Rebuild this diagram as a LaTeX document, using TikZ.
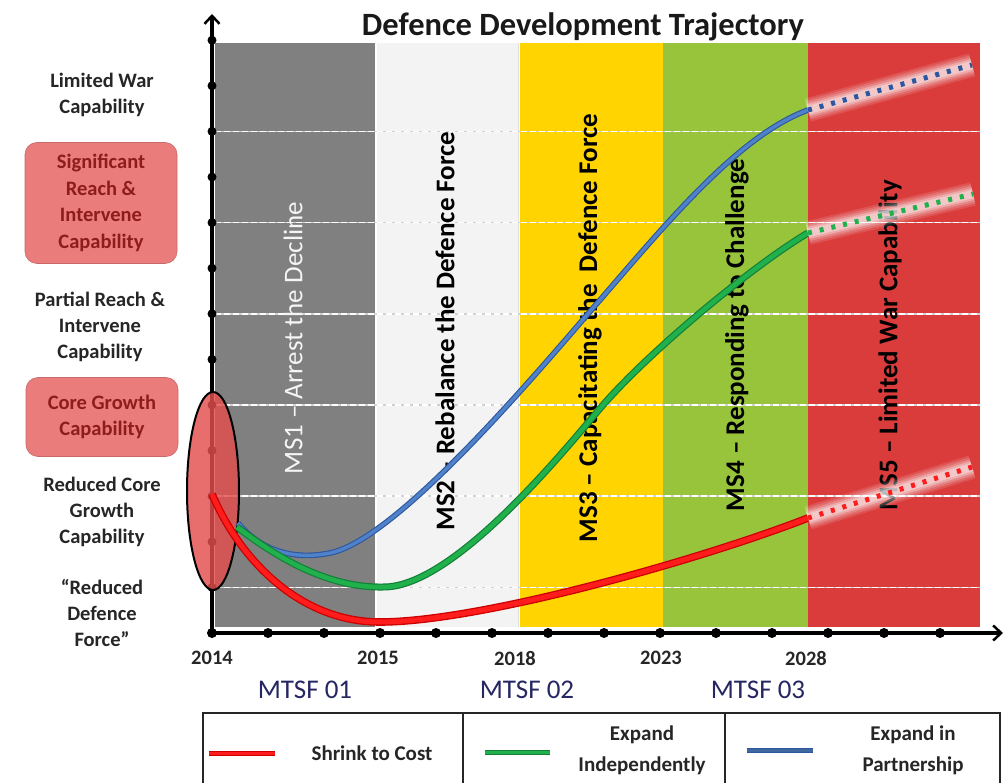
\documentclass[tikz,border=0pt]{standalone}
\usepackage{fontspec}
\setmainfont{Carlito}
\usetikzlibrary{arrows.meta,shapes.geometric}
\definecolor{bandgray}{HTML}{808080}
\definecolor{bandwhite}{HTML}{F3F3F3}
\definecolor{bandyellow}{HTML}{FFD400}
\definecolor{bandgreen}{HTML}{98C43C}
\definecolor{bandred}{HTML}{DA3B3B}
\definecolor{pinkfill}{HTML}{EA7C7C}
\definecolor{pinktext}{HTML}{8E1C1C}
\definecolor{navy}{HTML}{262662}
\definecolor{cblue}{HTML}{4F82C8}
\definecolor{cblueedge}{HTML}{2C56A0}
\definecolor{cgreen}{HTML}{20B04C}
\definecolor{cgreenedge}{HTML}{138038}
\definecolor{cred}{HTML}{FF1C1C}
\definecolor{crededge}{HTML}{CC0000}
\definecolor{ellfill}{HTML}{E44E4E}
\tikzset{
  leftlbl/.style={font=\bfseries\fontsize{20.5}{26}\selectfont, align=center, text=black!85, inner sep=0pt},
  pinklbl/.style={fill=pinkfill, draw=pinkfill!85!black, line width=0.6pt, rounded corners=12pt,
     text=pinktext, font=\bfseries\fontsize{20.5}{26.7}\selectfont, align=center, inner sep=0pt},
  yearlbl/.style={font=\bfseries\fontsize{20.5}{24}\selectfont, text=black!85, inner sep=0pt},
  mtsflbl/.style={font=\fontsize{27}{30}\selectfont, text=navy, inner sep=0pt},
  bandlbl/.style={rotate=90, font=\bfseries\fontsize{27}{30}\selectfont, inner sep=0pt},
  leglbl/.style={font=\bfseries\fontsize{21}{31}\selectfont, align=center, text=black!85, inner sep=0pt},
  gridgray/.style={black!18, line width=1.6pt},
  gridwhite/.style={white, line width=1.6pt, dash pattern=on 6pt off 3pt},
  halo/.style={white, line cap=butt},
  dotline/.style={line width=5pt, line cap=butt, dash pattern=on 4pt off 8pt},
  axisline/.style={line width=3.5pt, black},
}
\begin{document}
\begin{tikzpicture}[x=1pt,y=-1pt]
\useasboundingbox (0,0) rectangle (1004,783);
\fill[white] (0,0) rectangle (1004,783);

% bands
\fill[bandgray] (215,43) rectangle (375,627);
\fill[bandwhite] (377,43) rectangle (518,627);
\draw[black!12, line width=1pt] (518,43) -- (518,627);
\fill[bandyellow] (520,43) rectangle (663,627);
\fill[bandgreen] (663,43) rectangle (808,627);
\fill[bandred] (808,43) rectangle (980,627);

% grid lines
\foreach \k in {1,3,5,7,9,11}{
  \draw[gridgray] (215,{633-45.6*\k}) -- (980,{633-45.6*\k});
  \draw[gridwhite] (215,{633-45.6*\k}) -- (980,{633-45.6*\k});
}

% band labels
\node[bandlbl, font=\fontsize{27}{30}\selectfont, text=white!92!gray] (ms1) at (293,338) {MS1 – Arrest the Decline};
\node[bandlbl] (ms2) at (445,331) {MS2 – Rebalance the Defence Force};
\node[bandlbl] (ms3) at (590,328) {MS3 – Capacitating the\ \ Defence Force};
\node[bandlbl] (ms4) at (737,335) {MS4 – Responding to Challenge};
\node[bandlbl] (ms5) at (890,345) {MS5 – Limited War Capability};

% axes
\coordinate (org) at (212,633);
\coordinate (ytop) at (212,14);
\coordinate (xend) at (1003,633);
\draw[axisline, -{Straight Barb[length=8pt,width=15pt,line width=2.5pt]}] (org) -- (ytop);
\draw[axisline, -{Straight Barb[length=8pt,width=15pt,line width=2.5pt]}] (org) -- (xend);
\foreach \k in {0,...,13}{
  \fill (212,{633-45.6*\k}) circle (4.5pt);
  \fill ({212+56*\k},633) circle (5pt);
}

% ellipse
\node[ellipse, draw=black, line width=2pt, fill=ellfill, fill opacity=0.82,
      minimum width=52pt, minimum height=198pt, inner sep=0pt] (ell) at (213,491) {};

% curves
\coordinate (bS) at (808,110); \coordinate (bE) at (972,65);
\coordinate (gS) at (808,233); \coordinate (gE) at (973,194);
\coordinate (rS) at (808,518); \coordinate (rE) at (972,467);

\draw[cblueedge, double=cblue, double distance=3.4pt, line width=1.1pt]
  (238,523) .. controls (262,552) and (295,560) .. (330,553)
  .. controls (400,539) and (550,357) .. (600,300)
  .. controls (670,219) and (740,135) .. (bS);
\draw[cgreenedge, double=cgreen, double distance=4.6pt, line width=1.2pt]
  (237,527) .. controls (280,560) and (330,588) .. (383,587)
  .. controls (450,588) and (555,462) .. (597,412)
  .. controls (647,352) and (758,262) .. (gS);
\draw[crededge, double=cred, double distance=5pt, line width=1.3pt]
  (212,494) .. controls (240,560) and (300,622) .. (380,622)
  .. controls (480,622) and (700,560) .. (rS);

% dotted extensions with a soft light halo
\foreach \s/\e/\c in {bS/bE/cblueedge, gS/gE/cgreen, rS/rE/cred}{
  \foreach \w/\o in {24/0.12, 20/0.15, 16/0.2, 12/0.3, 8/0.35}{
    \draw[halo, line width=\w pt, opacity=\o] (\s) -- (\e);
  }
  \draw[dotline, \c] (\s) -- (\e);
}

% title
\node[font=\bfseries\fontsize{32.5}{35}\selectfont, text=black!90, inner sep=0pt] (title) at (583,27) {Defence Development Trajectory};

% left labels
\node[leftlbl] (lw) at (102,95) {Limited War\\Capability};
\node[pinklbl, minimum width=152pt, minimum height=121pt] (sr) at (101,203) {Significant\\Reach \&\\Intervene\\Capability};
\node[leftlbl] (pr) at (100,327) {Partial Reach \&\\Intervene\\Capability};
\node[pinklbl, minimum width=152pt, minimum height=79pt] (cg) at (102,417) {Core Growth\\Capability};
\node[leftlbl] (rc) at (102,512) {Reduced Core\\Growth\\Capability};
\node[leftlbl] (rd) at (102,613) {“Reduced\\Defence\\Force”};

% years
\node[yearlbl] (y14) at (212,658) {2014};
\node[yearlbl] (y15) at (378,658) {2015};
\node[yearlbl] (y18) at (515,658) {2018};
\node[yearlbl] (y23) at (661,658) {2023};
\node[yearlbl] (y28) at (806,658) {2028};

% MTSF
\node[mtsflbl] (m1) at (305,690) {MTSF 01};
\node[mtsflbl] (m2) at (527,690) {MTSF 02};
\node[mtsflbl] (m3) at (758,690) {MTSF 03};

% legend
\draw[line width=1.8pt, black!85] (203,800) -- (203,713) -- (1000,713) -- (1000,800);
\draw[line width=1.8pt, black!85] (463,713) -- (463,800);
\draw[line width=1.8pt, black!85] (725,713) -- (725,800);
\draw[crededge, double=cred, double distance=3pt, line width=1pt] (209,753) -- (275,753);
\draw[cgreenedge, double=cgreen, double distance=3pt, line width=1pt] (485,752) -- (550,752);
\draw[cblueedge, double=cblue!80!black, double distance=3pt, line width=1pt] (747,750) -- (813,750);
\node[leglbl] (l1) at (372,753) {Shrink to Cost};
\node[leglbl] (l2) at (642,750) {Expand\\Independently};
\node[leglbl] (l3) at (913,750) {Expand in\\Partnership};
\end{tikzpicture}
\end{document}
